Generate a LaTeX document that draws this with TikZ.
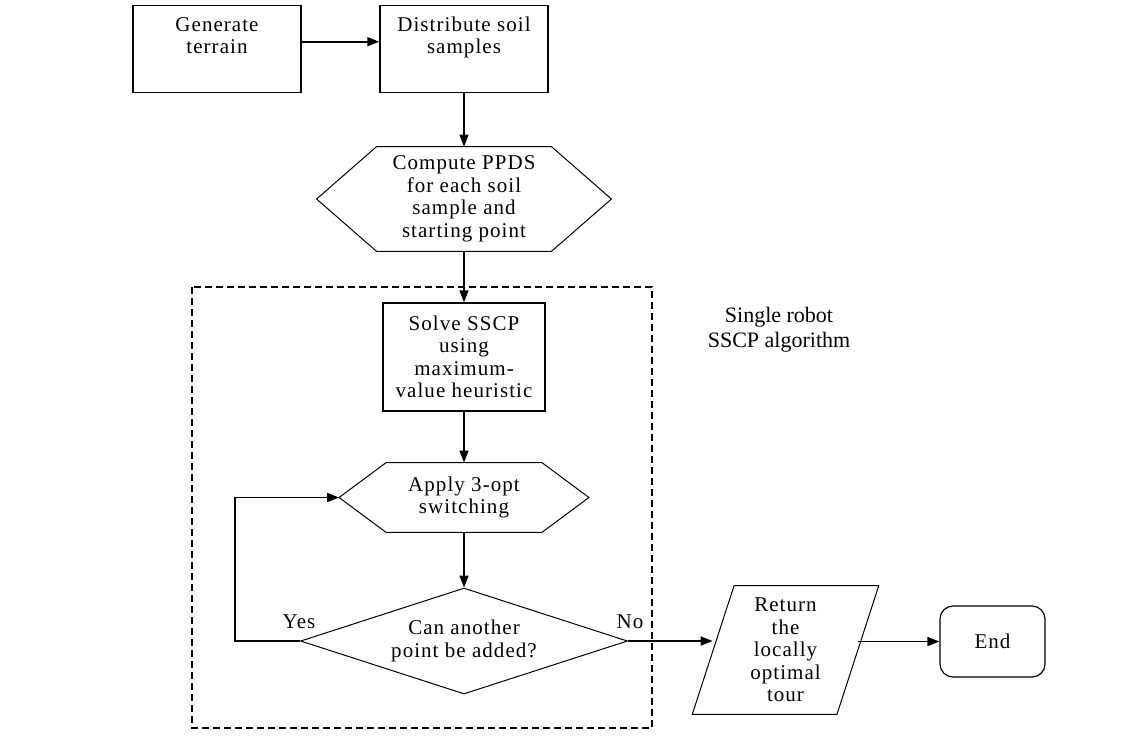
\documentclass[tikz,border=0pt]{standalone}
\usepackage{fontspec}
\setmainfont{Liberation Serif}[LetterSpace=5]
\newfontfamily\lblfont{Liberation Serif}
\usetikzlibrary{arrows.meta,positioning,shapes.geometric}

% hexagon frame round a named node, #2 = horizontal length of the slant
\newcommand{\hexframe}[2]{%
  \draw[hexline] (#1.west) -- ([xshift=#2]#1.north west) -- ([xshift=-#2]#1.north east)
    -- (#1.east) -- ([xshift=-#2]#1.south east) -- ([xshift=#2]#1.south west) -- cycle;}

\begin{document}
\begin{tikzpicture}[
  x=0.5pt, y=-0.5pt,
  font=\fontsize{10.5}{11.25}\selectfont,
  box/.style={draw, rectangle, line width=0.7pt, align=center, inner sep=1pt},
  topbox/.style={box, minimum width=84pt, text height=22pt, text depth=17.5pt, inner ysep=2pt},
  hexbox/.style={rectangle, align=center, inner sep=0pt},
  hexline/.style={line width=0.5pt},
  decision/.style={draw, diamond, aspect=3, minimum width=163.5pt, minimum height=53pt, inner sep=0pt, line width=0.5pt, align=center},
  io/.style={draw, trapezium, trapezium left angle=72, trapezium right angle=108, minimum width=93.5pt, minimum height=62pt, inner xsep=2pt, inner ysep=-1.5pt, line width=0.5pt, align=center},
  term/.style={draw, rounded corners=6.5pt, minimum width=52.5pt, minimum height=35.5pt, line width=0.6pt},
  arr/.style={-{Triangle[length=6pt,width=4.5pt]}, line width=0.8pt}
]
\useasboundingbox (0,0) rectangle (1138,736);

% main flow
\node[topbox, anchor=north] (gen) at (217,5) {Generate\\terrain};
\node[topbox, anchor=north] (dist) at (464,5) {Distribute soil\\samples};
\node[hexbox, minimum width=147pt, minimum height=52pt] (ppds) at (464,199)
  {Compute PPDS\\for each soil\\sample and\\starting point};
\hexframe{ppds}{30pt}
\node[box, minimum width=81pt, minimum height=54pt] (solve) at (464,357)
  {Solve SSCP\\using\\maximum-\\value heuristic};
\node[hexbox, minimum width=124.5pt, minimum height=34.5pt] (apply) at (464,497.5)
  {Apply 3-opt\\switching};
\hexframe{apply}{23.5pt}
\node[decision] (dia) at (464,641) {Can another\\point be added?};
\node[io] (ret) at (785.5,650) {Return\\the\\locally\\optimal\\tour};
\node[term] (end) at (992.5,641.5) {End};

% group and labels
\draw[dashed, dash pattern=on 3.5pt off 2pt, line width=0.6pt] (192,287) rectangle (652,728);
\node[align=center, font=\lblfont\fontsize{11}{12.5}\selectfont] (grp) at (779,330) {Single robot\\SSCP algorithm};
\node (yes) at (299,622) {Yes};
\node (no) at (630,622) {No};

% connectors
\draw[arr] ([yshift=3.75pt]gen.east) -- ([yshift=3.75pt]dist.west);
\draw[arr] (dist) -- (ppds);
\draw[arr] (ppds) -- (solve);
\draw[arr] (solve) -- (apply);
\draw[arr] (apply) -- (dia);
\draw[arr] (dia.west) -- ++(-65,0) |- (apply.west);
\draw[arr] (dia.east) -- (dia.east -| ret.west);
\draw[arr] (end.west -| ret.east) -- (end.west);
\end{tikzpicture}
\end{document}
